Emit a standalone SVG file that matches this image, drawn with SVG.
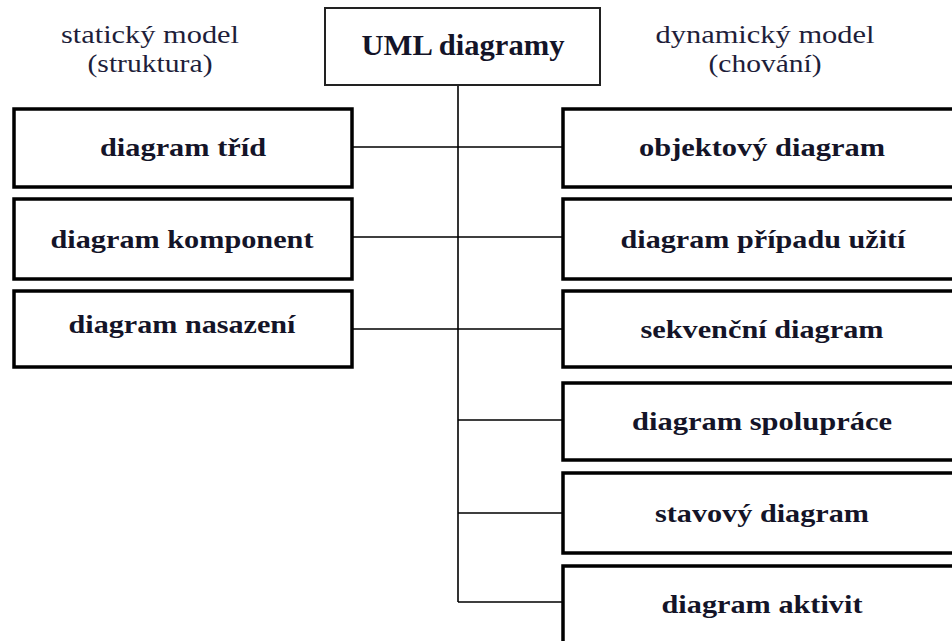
<svg xmlns="http://www.w3.org/2000/svg" width="952" height="641" viewBox="0 0 952 641">
<style>
.box{fill:#fff;stroke:#000;stroke-width:3.5}
.top{fill:#fff;stroke:#222;stroke-width:2}
text{font-family:'Liberation Serif','Times New Roman',Times,serif}
.lbl{font-weight:bold;font-size:26px;fill:#141428;text-anchor:middle}
.hdr{font-size:26px;fill:#1e1e3a;text-anchor:middle}
.con{stroke:#000;stroke-width:1.6;fill:none}
</style>
<rect width="952" height="641" fill="#fff"/>
<text class="hdr" x="150" y="43" textLength="178" lengthAdjust="spacingAndGlyphs">statický model</text>
<text class="hdr" x="150" y="72" textLength="125" lengthAdjust="spacingAndGlyphs">(struktura)</text>
<text class="hdr" x="765" y="43" textLength="219" lengthAdjust="spacingAndGlyphs">dynamický model</text>
<text class="hdr" x="765" y="72" textLength="113" lengthAdjust="spacingAndGlyphs">(chování)</text>
<g id="connectors">
<path class="con" d="M458 85V602"/>
<path class="con" d="M352 147H562M352 237H562M352 329H562"/>
<path class="con" d="M458 420H562M458 513H562M458 602H562"/>
</g>
<g id="uml"><rect class="top" x="325" y="8" width="275" height="77"/><text class="lbl" x="463" y="55" style="font-size:29px" textLength="203" lengthAdjust="spacingAndGlyphs">UML diagramy</text></g>
<g id="tridy"><rect class="box" x="14" y="109" width="338" height="78"/><text class="lbl" x="183" y="156" textLength="166" lengthAdjust="spacingAndGlyphs">diagram tříd</text></g>
<g id="komponent"><rect class="box" x="14" y="199" width="338" height="80"/><text class="lbl" x="182" y="248" textLength="263" lengthAdjust="spacingAndGlyphs">diagram komponent</text></g>
<g id="nasazeni"><rect class="box" x="14" y="291" width="338" height="76"/><text class="lbl" x="182" y="333" textLength="227" lengthAdjust="spacingAndGlyphs">diagram nasazení</text></g>
<g id="objektovy"><rect class="box" x="563" y="109" width="400" height="78"/><text class="lbl" x="762" y="156" textLength="246" lengthAdjust="spacingAndGlyphs">objektový diagram</text></g>
<g id="pripad"><rect class="box" x="563" y="199" width="400" height="80"/><text class="lbl" x="763" y="248" textLength="285" lengthAdjust="spacingAndGlyphs">diagram případu užití</text></g>
<g id="sekvencni"><rect class="box" x="563" y="291" width="400" height="76"/><text class="lbl" x="762" y="338" textLength="243" lengthAdjust="spacingAndGlyphs">sekvenční diagram</text></g>
<g id="spoluprace"><rect class="box" x="563" y="383" width="400" height="77"/><text class="lbl" x="762" y="430" textLength="260" lengthAdjust="spacingAndGlyphs">diagram spolupráce</text></g>
<g id="stavovy"><rect class="box" x="563" y="473" width="400" height="80"/><text class="lbl" x="762" y="522" textLength="214" lengthAdjust="spacingAndGlyphs">stavový diagram</text></g>
<g id="aktivit"><rect class="box" x="563" y="566" width="400" height="90"/><text class="lbl" x="762" y="613" textLength="201" lengthAdjust="spacingAndGlyphs">diagram aktivit</text></g>
</svg>
